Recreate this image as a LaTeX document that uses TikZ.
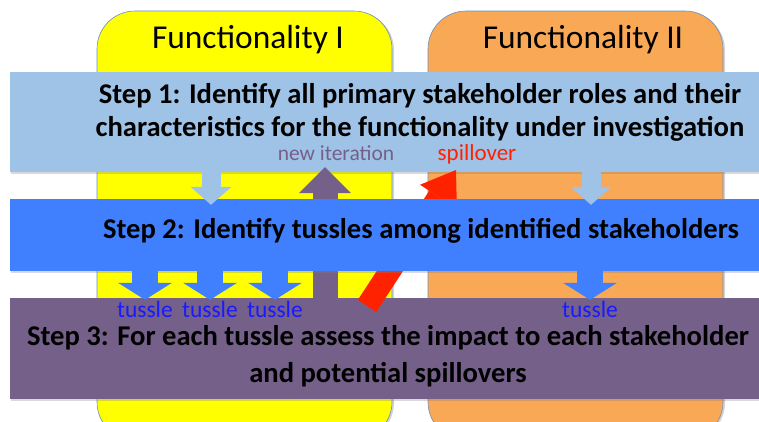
\documentclass[tikz,border=0pt]{standalone}
\usepackage{fontspec}
\setmainfont{Carlito}
\usepackage{tikz}
\usetikzlibrary{arrows.meta, shadows}

\definecolor{funcA}{HTML}{FFFF00}
\definecolor{funcB}{HTML}{F9A855}
\definecolor{colEdge}{HTML}{6A8FC0}
\definecolor{stepA}{HTML}{9FC2E7}
\definecolor{stepB}{HTML}{4080FF}
\definecolor{stepC}{HTML}{75608A}
\definecolor{spill}{HTML}{FF2200}
\definecolor{tussleText}{HTML}{1A1AFF}

\begin{document}
\begin{tikzpicture}[x=1pt, y=-1pt,
    column/.style={draw=colEdge, line width=0.6pt, rounded corners=38pt,
      drop shadow={shadow xshift=2pt, shadow yshift=-1pt, opacity=0.35}},
    coltitle/.style={anchor=base, font=\fontsize{33.4}{36}\selectfont},
    stepbox/.style={minimum height=#1, inner sep=0pt,
      drop shadow={shadow xshift=1pt, shadow yshift=-2pt, opacity=0.3}},
    steptext/.style={anchor=base, align=center, inner sep=0pt, font=\bfseries\fontsize{28.6}{#1}\selectfont},
    smalltext/.style={anchor=base, inner sep=0pt, font=\fontsize{#1}{24}\selectfont},
    liteArrow/.style={draw=stepA, line width=19pt, -{Triangle[width=41pt, length=18pt, line width=0pt]}},
    blueArrow/.style={draw=stepB, line width=26pt, -{Triangle[width=54pt, length=17pt, line width=0pt]}},
    iterArrow/.style={draw=stepC, line width=25pt, -{Triangle[width=52pt, length=26pt, line width=0pt]}},
    spillArrow/.style={draw=spill, line width=22pt, -{Triangle[width=44pt, length=32pt, line width=0pt]}}]

    \useasboundingbox (0,0) rectangle (759,421);
    \clip (0,0) rectangle (759,421);

    % functionality columns
    \path[column, fill=funcA] (97,11) rectangle (392,440);
    \path[column, fill=funcB] (428,11) rectangle (723,440);
    \node[coltitle] (f1) at (248,48) {Functionality I};
    \node[coltitle] (f2) at (583,48) {Functionality II};

    % step 1 (base = last line)
    \node[stepbox=100pt, minimum width=820pt, fill=stepA] (s1) at (420,122) {};
    \node[steptext=33pt] (s1t) at (420,136)
      {Step 1: Identify all primary stakeholder roles and their\\
       characteristics for the functionality under investigation};
    \node[smalltext=21.5, text=stepC] (iter) at (336,160) {new iteration};
    \node[smalltext=23, text=spill] (spl) at (477,160) {spillover};

    % step 3
    \node[stepbox=101pt, minimum width=756pt, fill=stepC] (s3) at (388,348.5) {};
    \node[steptext=37pt] (s3t) at (388,382)
      {Step 3: For each tussle assess the impact to each stakeholder\\
       and potential spillovers};

    % back to step 1
    \draw[iterArrow] (325,0 |- s3.north) -- ([yshift=5pt]325,0 |- s1.south);
    \coordinate (spT) at (367,306);
    \coordinate (spH) at (456,170);
    \draw[spillArrow] (spT) -- (spH);

    % step 2
    \node[stepbox=72pt, minimum width=820pt, fill=stepB] (s2) at (420,235) {};
    \node[steptext=31pt] (s2t) at (421,238)
      {Step 2: Identify tussles among identified stakeholders};

    \foreach \x in {211,591} {
      \draw[liteArrow] (\x,0 |- s1.south) -- ([yshift=-6pt]\x,0 |- s2.north);
    }
    \foreach \x/\n in {145/a,210/b,275/c,590/d} {
      \draw[blueArrow] (\x,0 |- s2.south) -- ([yshift=-2pt]\x,0 |- s3.north);
      \node[smalltext=23.5, text=tussleText] (t\n) at (\x,317) {tussle};
    }

\end{tikzpicture}
\end{document}
